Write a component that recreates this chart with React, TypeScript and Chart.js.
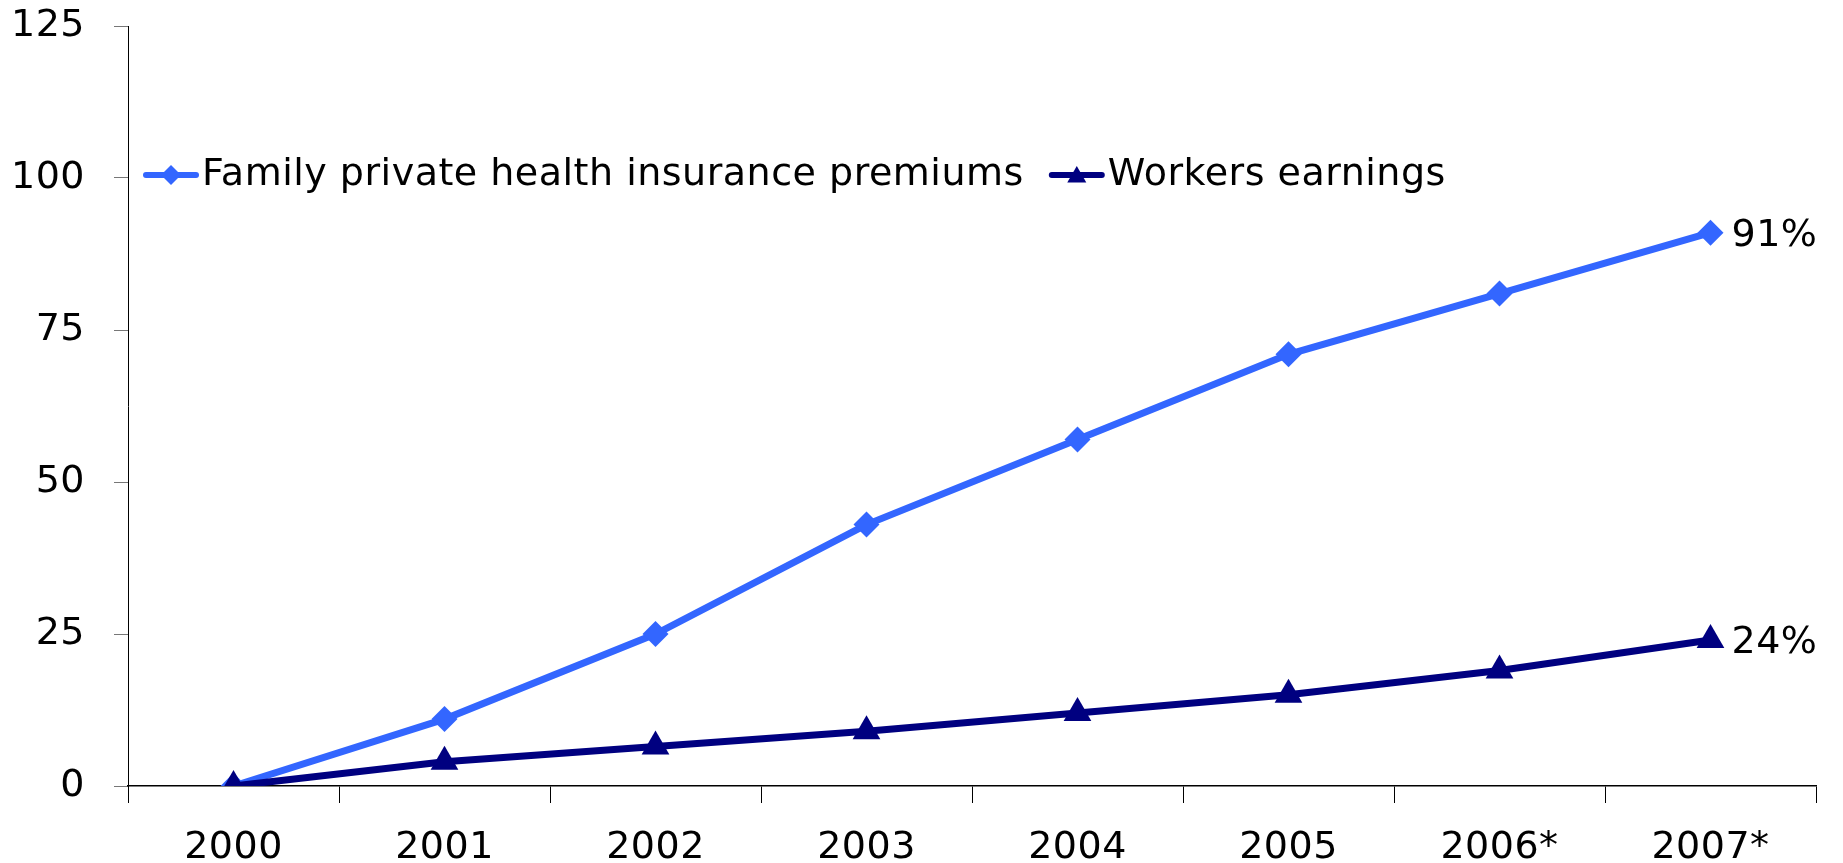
import React, { useEffect, useRef } from 'react';
import { Chart, registerables } from 'chart.js';

Chart.register(...registerables);

const categories = ['2000', '2001', '2002', '2003', '2004', '2005', '2006*', '2007*'];
const premiums = [0, 11, 25, 43, 57, 71, 81, 91];
const earnings = [0, 4, 6.5, 9, 12, 15, 19, 24];
const seriesNames = ['Family private health insurance premiums', 'Workers earnings'];
const endLabels = ['91%', '24%'];
const yMin = 0;
const yMax = 125;
const yStep = 25;

const FONT = "'DejaVu Sans', sans-serif";
const FONT_SIZE = 38;
const LETTER_SPACING = '0.5px';
const BLUE = '#3366FF';
const NAVY = '#000080';

function drawMarker(ctx: CanvasRenderingContext2D, style: string, x: number, y: number, r: number, color: string) {
  ctx.save();
  ctx.fillStyle = color;
  ctx.beginPath();
  if (style === 'rectRot') {
    ctx.moveTo(x - r, y);
    ctx.lineTo(x, y - r);
    ctx.lineTo(x + r, y);
    ctx.lineTo(x, y + r);
  } else {
    const a = Math.PI * 2 / 3;
    for (let i = 0; i < 3; i++) {
      const ang = i * a;
      const px = x + Math.sin(ang) * r;
      const py = y - Math.cos(ang) * r;
      if (i === 0) ctx.moveTo(px, py); else ctx.lineTo(px, py);
    }
  }
  ctx.closePath();
  ctx.fill();
  ctx.restore();
}

const spacingPlugin = {
  id: 'letterSpacing',
  beforeDraw(chart: any) {
    (chart.ctx as any).letterSpacing = LETTER_SPACING;
  },
};

const legendPlugin = {
  id: 'customLegend',
  afterDatasetsDraw(chart: any) {
    const { ctx, chartArea } = chart;
    const yScale = chart.scales.y;
    const y = yScale.getPixelForValue(100) - 3;
    let x = chartArea.left + 15;
    const items = [
      { label: seriesNames[0], color: BLUE, style: 'rectRot', r: 10 },
      { label: seriesNames[1], color: NAVY, style: 'triangle', r: 11 },
    ];
    ctx.save();
    (ctx as any).letterSpacing = LETTER_SPACING;
    ctx.font = `${FONT_SIZE}px ${FONT}`;
    ctx.textBaseline = 'middle';
    ctx.textAlign = 'left';
    items.forEach((it) => {
      const lineLen = 56;
      ctx.strokeStyle = it.color;
      ctx.lineWidth = 6;
      ctx.lineCap = 'round';
      ctx.beginPath();
      ctx.moveTo(x + 3, y);
      ctx.lineTo(x + lineLen - 3, y);
      ctx.stroke();
      drawMarker(ctx, it.style, x + lineLen / 2, y + (it.style === 'triangle' ? 2 : 0), it.r, it.color);
      ctx.fillStyle = '#000';
      const tx = x + lineLen + 3;
      ctx.fillText(it.label, tx, y);
      x = tx + ctx.measureText(it.label).width + 25;
    });
    ctx.restore();
  },
};

const endLabelPlugin = {
  id: 'endLabels',
  afterDatasetsDraw(chart: any) {
    const { ctx } = chart;
    ctx.save();
    (ctx as any).letterSpacing = LETTER_SPACING;
    ctx.font = `${FONT_SIZE}px ${FONT}`;
    ctx.textBaseline = 'middle';
    ctx.textAlign = 'left';
    ctx.fillStyle = '#000';
    chart.data.datasets.forEach((ds: any, i: number) => {
      const meta = chart.getDatasetMeta(i);
      const pt = meta.data[meta.data.length - 1];
      if (!pt) return;
      ctx.fillText(endLabels[i], pt.x + 21, pt.y + 3);
    });
    ctx.restore();
  },
};

export default function App() {
  const ref = useRef<HTMLCanvasElement>(null);
  useEffect(() => {
    if (!ref.current) return;
    const chart = new Chart(ref.current, {
      type: 'line',
      data: {
        labels: categories,
        datasets: [
          {
            label: seriesNames[0],
            data: premiums,
            borderColor: BLUE,
            backgroundColor: BLUE,
            borderWidth: 7,
            pointStyle: 'rectRot',
            pointRadius: 13,
            pointBorderWidth: 0,
            pointBackgroundColor: BLUE,
            tension: 0,
            order: 1,
          },
          {
            label: seriesNames[1],
            data: earnings,
            borderColor: NAVY,
            backgroundColor: NAVY,
            borderWidth: 7,
            pointStyle: 'triangle',
            pointRadius: 16,
            pointBorderWidth: 0,
            pointBackgroundColor: NAVY,
            tension: 0,
            order: 0,
          },
        ],
      },
      options: {
        responsive: false,
        animation: false,
        devicePixelRatio: 1,
        layout: { padding: { top: 26, right: 27, left: 0, bottom: 0 } },
        plugins: { legend: { display: false }, tooltip: { enabled: false } },
        font: { family: FONT },
        scales: {
          x: {
            type: 'category',
            offset: true,
            grid: {
              offset: true,
              drawOnChartArea: false,
              drawTicks: true,
              tickLength: 17,
              color: '#000',
              lineWidth: 1,
            },
            border: { color: '#000', width: 1.5 },
            ticks: {
              color: '#000',
              font: { family: FONT, size: FONT_SIZE },
              padding: 22,
              maxRotation: 0,
              autoSkip: false,
            },
            afterFit(scale: any) {
              scale.height = 77;
              scale.paddingLeft = 0;
              scale.paddingRight = 0;
            },
          },
          y: {
            min: yMin,
            max: yMax,
            grid: {
              drawOnChartArea: false,
              drawTicks: true,
              tickLength: 14,
              color: '#777',
              lineWidth: 1,
            },
            border: { color: '#000', width: 1 },
            ticks: {
              stepSize: yStep,
              color: '#000',
              font: { family: FONT, size: FONT_SIZE },
              padding: 29,
            },
            afterFit(scale: any) {
              scale.width = 128;
              scale.paddingTop = 0;
              scale.paddingBottom = 0;
            },
          },
        },
      },
      plugins: [spacingPlugin, legendPlugin, endLabelPlugin],
    } as any);
    return () => chart.destroy();
  }, []);
  return (
    <div style={{ position: 'fixed', left: 0, top: 0, width: 1843, height: 863, background: '#fff' }}>
      <canvas ref={ref} width={1843} height={863} />
    </div>
  );
}
